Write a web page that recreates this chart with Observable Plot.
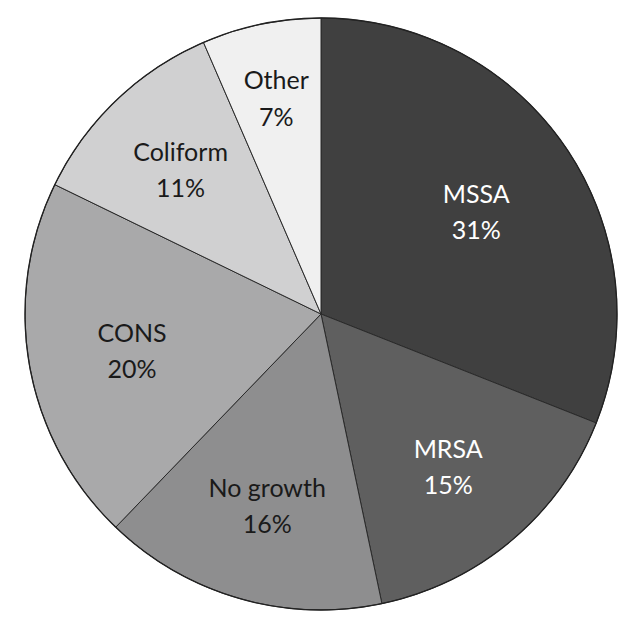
<!DOCTYPE html>
<html>
<head>
<meta charset="utf-8">
<script src="https://cdn.jsdelivr.net/npm/d3@7"></script>
<script src="https://cdn.jsdelivr.net/npm/@observablehq/plot@0.6"></script>
<style>
  html, body { margin: 0; padding: 0; background: #fff; }
</style>
</head>
<body>
<div id="chart"></div>
<script>
const categories = ["MSSA", "MRSA", "No growth", "CONS", "Coliform", "Other"];
// shares (labels are the rounded values)
const values = [31.0, 15.7, 15.5, 20.0, 11.3, 6.5];
const labels = ["31%", "15%", "16%", "20%", "11%", "7%"];
const colors = ["#404040", "#5f5f5f", "#8e8e8f", "#a9a9aa", "#d0d0d1", "#f0f0f0"];
const textColors = ["#ffffff", "#ffffff", "#1a1a1a", "#1a1a1a", "#1a1a1a", "#1a1a1a"];

const data = categories.map((c, i) => ({category: c, value: values[i], label: labels[i], color: colors[i], textColor: textColors[i]}));
const arcs = d3.pie().value(d => d.value).sort(null)(data);
const labelData = arcs.map(a => {
  const mid = (a.startAngle + a.endAngle) / 2;
  const r = 0.6 + 1.0 / a.data.value; // smaller slices push labels outward
  return {x: r * Math.sin(mid), y: r * Math.cos(mid), text: a.data.category + "\n" + a.data.label, textColor: a.data.textColor};
});

const pieMark = (index, scales, values, dimensions) => {
  const cx = scales.x(0), cy = scales.y(0);
  const R = Math.abs(scales.x(1) - scales.x(0));
  const arc = d3.arc().innerRadius(0).outerRadius(R);
  const g = d3.create("svg:g").attr("transform", `translate(${cx},${cy})`);
  g.selectAll("path").data(arcs).join("path")
    .attr("d", arc)
    .attr("fill", d => d.data.color)
    .attr("stroke", "#2a2a2a")
    .attr("stroke-width", 1)
    .attr("stroke-linejoin", "round");
  g.append("circle").attr("r", R).attr("fill", "none").attr("stroke", "#222").attr("stroke-width", 1.3);
  return g.node();
};

const chart = Plot.plot({
  width: 641,
  height: 624,
  marginLeft: 25,
  marginRight: 24,
  marginTop: 18,
  marginBottom: 14,
  x: {domain: [-1, 1], axis: null},
  y: {domain: [-1, 1], axis: null},
  style: {fontFamily: "Lato, sans-serif", background: "#fff"},
  marks: [
    pieMark,
    Plot.text(labelData, {x: "x", y: "y", text: "text", fill: "textColor", fontSize: 25, lineHeight: 1.45})
  ]
});
document.getElementById("chart").appendChild(chart);
</script>
</body>
</html>
